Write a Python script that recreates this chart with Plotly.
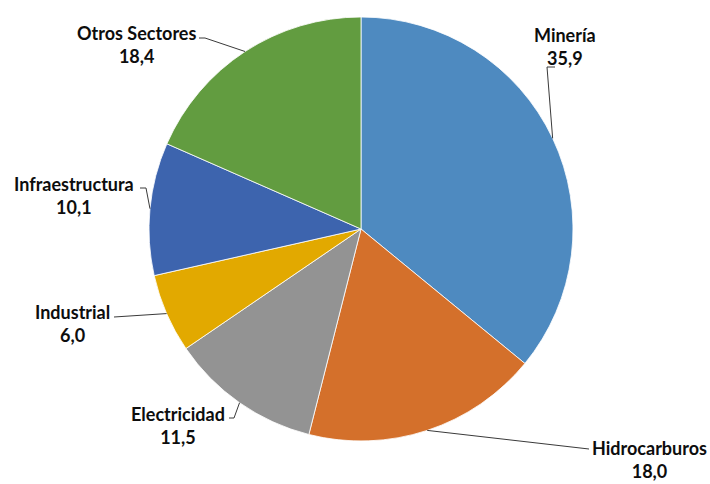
import math
import plotly.graph_objects as go

# ---- data ----
sectores = ["Minería", "Hidrocarburos", "Electricidad", "Industrial", "Infraestructura", "Otros Sectores"]
valores = [35.9, 18.0, 11.5, 6.0, 10.1, 18.4]
colores = ["#4E8AC0", "#D4702B", "#939393", "#E2A900", "#3D64AE", "#629C40"]

# ---- layout (pixels) ----
W, H = 710, 484
CX, CY, R = 361, 229, 212
# label block centres
label_pos = [(565, 47), (649, 459), (178, 425), (72, 323), (74, 195), (136, 45)]
# leader line: start near label, optional elbow, then to slice edge
leader_pts = [
    [(555, 67), (547, 67)],
    [(589, 449)],
    [(229, 418), (234, 418)],
    [(114, 317)],
    [(140, 188), (146, 188)],
    [(199, 38), (205, 38)],
]


def px(x, y):
    return x / W, 1 - y / H


fig = go.Figure(go.Pie(
    labels=sectores,
    values=valores,
    sort=False,
    direction="clockwise",
    rotation=0,
    textinfo="none",
    hoverinfo="label+value",
    marker=dict(colors=colores, line=dict(color="white", width=0.8)),
    domain=dict(x=[(CX - R) / W, (CX + R) / W], y=[(H - CY - R) / H, (H - CY + R) / H]),
    showlegend=False,
))

total = sum(valores)
cum = 0.0
annotations = []
shapes = []
for i, (s, v) in enumerate(zip(sectores, valores)):
    mid = (cum + v / 2) / total * 2 * math.pi
    cum += v
    ex = CX + R * math.sin(mid)
    ey = CY - R * math.cos(mid)
    pts = leader_pts[i] + [(ex, ey)]
    for (x0, y0), (x1, y1) in zip(pts[:-1], pts[1:]):
        a0 = px(x0, y0)
        a1 = px(x1, y1)
        shapes.append(dict(type="line", xref="paper", yref="paper",
                           x0=a0[0], y0=a0[1], x1=a1[0], y1=a1[1],
                           line=dict(color="#3a3a3a", width=1)))
    lx, ly = px(*label_pos[i])
    txt = f"{s}<br>{v:.1f}".replace(".", ",")
    annotations.append(dict(
        x=lx, y=ly, xref="paper", yref="paper", xanchor="center", yanchor="middle",
        text=txt, showarrow=False, align="center",
        font=dict(family="Lato", size=18, color="#0d0d0d", weight="bold"),
    ))

fig.update_layout(
    width=W, height=H,
    margin=dict(l=0, r=0, t=0, b=0),
    paper_bgcolor="white",
    plot_bgcolor="white",
    annotations=annotations,
    shapes=shapes,
)

fig.write_html("out.html")
